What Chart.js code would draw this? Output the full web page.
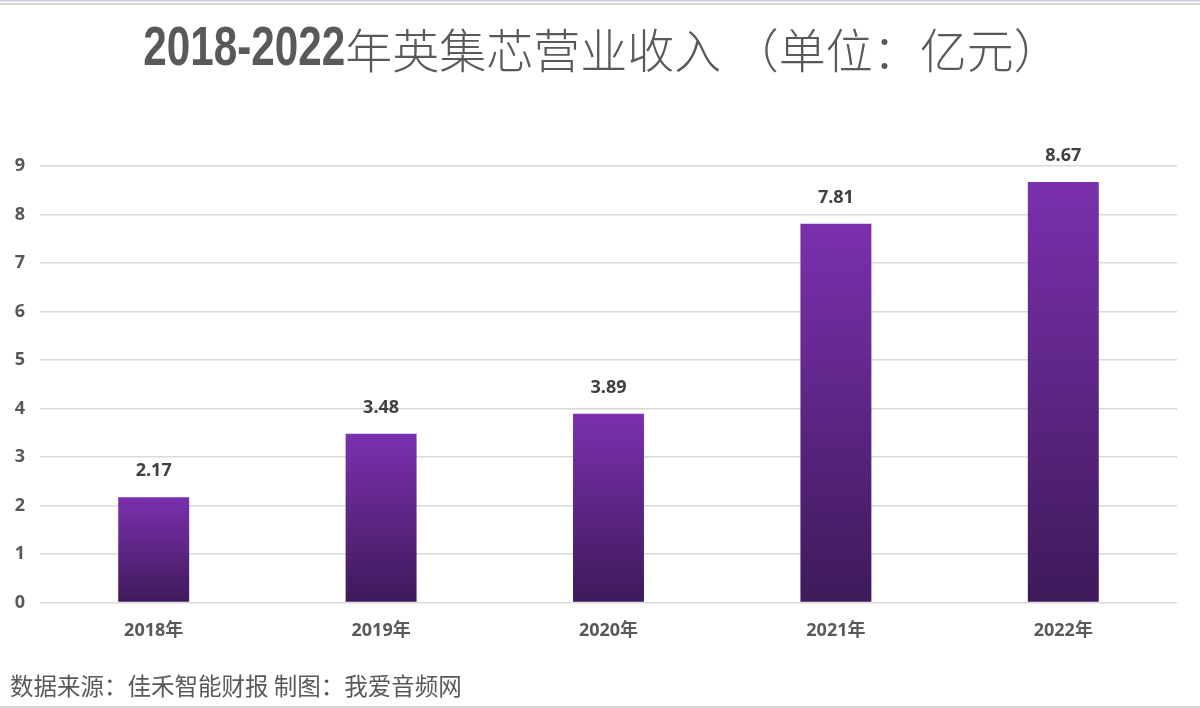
<!DOCTYPE html>
<html><head><meta charset="utf-8">
<script src="https://cdn.jsdelivr.net/npm/chart.js@4"></script>
<style>html,body{margin:0;padding:0;background:#fff;}canvas{display:block;}</style>
</head><body>
<canvas id="c" width="1200" height="708"></canvas>
<script>
const categories = ['2018年','2019年','2020年','2021年','2022年'];
const revenue = [2.17, 3.48, 3.89, 7.81, 8.67];
const yTicks = [0,1,2,3,4,5,6,7,8,9];
const titleNum = '2018-2022';
const titleText = '年英集芯营业收入 （单位：亿元）';
const footerText = '数据来源：佳禾智能财报 制图：我爱音频网';

const CJK = "'Noto Sans CJK SC'";

const decor = {
  id: 'decor',
  beforeDraw(chart) {
    const ctx = chart.ctx;
    ctx.save();
    ctx.fillStyle = '#fff';
    ctx.fillRect(0, 0, chart.width, chart.height);
    ctx.fillStyle = '#c9c9de';
    ctx.fillRect(0, 0, chart.width, 1.5);
    ctx.fillStyle = '#d6d6d6';
    ctx.fillRect(0, 3, chart.width, 2);
    ctx.fillRect(0, chart.height - 2, chart.width, 2);
    ctx.restore();
  },
  afterDraw(chart) {
    const ctx = chart.ctx;
    ctx.save();
    // title
    ctx.fillStyle = '#595959';
    ctx.textBaseline = 'middle';
    ctx.font = "bold 44px 'Liberation Sans Narrow', 'Liberation Sans'";
    const wNum = ctx.measureText(titleNum).width;
    const numW = 202;
    const numScale = numW / wNum;
    const txtFont = "300 47px " + CJK;
    ctx.font = txtFont;
    const wTxt = ctx.measureText(titleText).width;
    const total = numW + wTxt;
    const x0 = chart.width / 2 - total / 2 + 2;
    ctx.save();
    ctx.translate(x0, 50);
    ctx.scale(numScale, 1.25);
    ctx.font = "bold 44px 'Liberation Sans Narrow', 'Liberation Sans'";
    ctx.textAlign = 'left';
    ctx.fillText(titleNum, 0, 0);
    ctx.restore();
    ctx.font = txtFont;
    ctx.textAlign = 'left';
    ctx.fillText(titleText, x0 + numW, 50);
    // footer
    ctx.font = "23.5px " + CJK;
    ctx.fillText(footerText, 10, 686);
    // data labels
    const meta = chart.getDatasetMeta(0);
    ctx.font = "bold 18px 'Open Sans'";
    ctx.fillStyle = '#404040';
    ctx.textAlign = 'center';
    meta.data.forEach((bar, i) => {
      ctx.fillText(revenue[i].toFixed(2), bar.x, bar.y - 26);
    });
    ctx.restore();
  }
};

new Chart(document.getElementById('c'), {
  type: 'bar',
  data: {
    labels: categories,
    datasets: [{
      data: revenue,
      categoryPercentage: 1,
      barPercentage: 0.312,
      backgroundColor(context) {
        const chart = context.chart;
        const y = chart.scales.y;
        if (!y || !chart.chartArea || context.parsed === undefined) return '#6a2a98';
        const top = y.getPixelForValue(context.parsed.y);
        const bottom = y.getPixelForValue(0);
        const g = chart.ctx.createLinearGradient(0, top, 0, bottom);
        g.addColorStop(0, '#7b30ae');
        g.addColorStop(1, '#3e1a5a');
        return g;
      }
    }]
  },
  options: {
    responsive: false,
    animation: false,
    layout: { padding: { top: 166, left: 15, right: 23, bottom: 48 } },
    plugins: { legend: { display: false }, title: { display: false }, tooltip: { enabled: false } },
    scales: {
      x: {
        grid: { display: false, drawTicks: false },
        border: { display: false },
        ticks: { color: '#595959', padding: 18, font: { family: "'Open Sans', " + CJK, size: 18, weight: 'bold' } }
      },
      y: {
        min: 0, max: 9,
        afterBuildTicks(axis) { axis.ticks = yTicks.map(v => ({ value: v })); },
        afterFit(axis) { axis.width = 25; },
        grid: { color: '#d9d9d9', lineWidth: 1.5, drawTicks: false },
        border: { display: false },
        ticks: { color: '#595959', padding: 15, font: { family: "'Open Sans'", size: 18, weight: 'bold' } }
      }
    }
  },
  plugins: [decor]
});
</script>
</body></html>
